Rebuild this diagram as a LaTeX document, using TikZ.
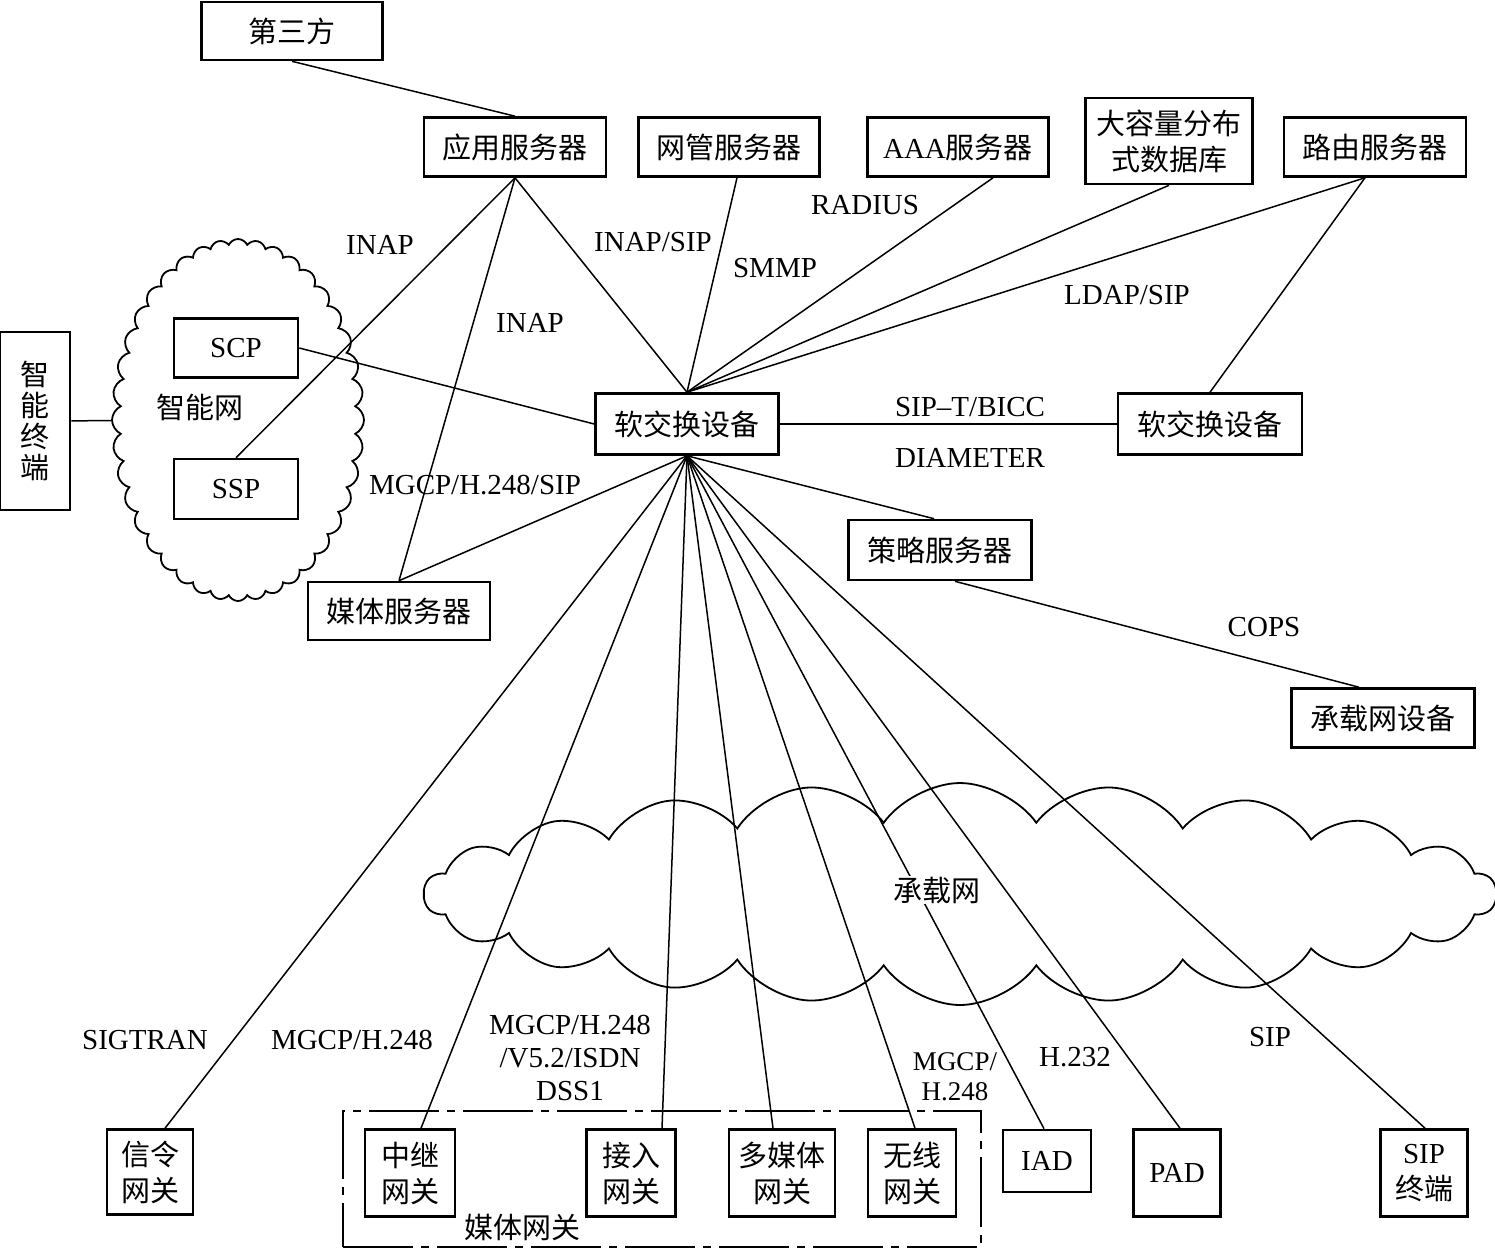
\documentclass[tikz,border=0pt]{standalone}
\usepackage{fontspec}
\setmainfont{Liberation Serif}
\newfontfamily\cjk{Noto Sans CJK SC}
\usetikzlibrary{shapes.symbols,calc}
\newcommand\cjkf{\cjk\fontsize{29}{36}\selectfont}
\newcommand\labf{\rmfamily\fontsize{29}{33}\selectfont}
\begin{document}
\begin{tikzpicture}[x=1pt,y=-1pt,
  box/.style={draw, line width=2.6pt, inner sep=0pt, align=center, font=\cjkf},
  conn/.style={line width=1.5pt},
  lab/.style={inner sep=1pt, align=center, font=\labf},
  clab/.style={inner sep=1pt, font=\cjkf},
  cloudy/.style={cloud, draw, line width=1.8pt, cloud ignores aspect, inner sep=0pt}]
\useasboundingbox (0,0) rectangle (1495,1251);
% clouds
\node[cloudy, cloud puffs=40, cloud puff arc=130, minimum width=252pt, minimum height=362pt] (ynet) at (238,420) {};
\node[cloudy, cloud puffs=22, cloud puff arc=110, minimum width=1072pt, minimum height=222pt] (bnet) at (960,894) {};
% media gateway frame
\node[draw, line width=2.4pt, dash pattern=on 70pt off 8pt on 8pt off 8pt, minimum width=638pt, minimum height=136pt, inner sep=0pt] (mg) at (662,1179) {};
% boxes
\node[box, minimum width=181pt, minimum height=58pt] (tp) at (292,31) {第三方};
\node[box, minimum width=182pt, minimum height=59pt] (app) at (515,147) {应用服务器};
\node[box, minimum width=181pt, minimum height=59pt] (nms) at (729,147) {网管服务器};
\node[box, minimum width=181pt, minimum height=59pt] (aaa) at (958,147) {\textrm{AAA}服务器};
\node[box, minimum width=167pt, minimum height=86pt] (db) at (1169,141) {大容量分布\\式数据库};
\node[box, minimum width=182pt, minimum height=59pt] (rt) at (1375,147) {路由服务器};
\node[box, minimum width=70pt, minimum height=178pt, font=\cjk\fontsize{29}{31}\selectfont] (zd) at (35,421) {智\\能\\终\\端};
\node[box, minimum width=124pt, minimum height=59pt] (scp) at (236,348) {\textrm{SCP}};
\node[box, minimum width=124pt, minimum height=60pt] (ssp) at (236,489) {\textrm{SSP}};
\node[box, minimum width=182pt, minimum height=58pt] (ms) at (399,611) {媒体服务器};
\node[box, minimum width=183pt, minimum height=61pt] (hub) at (687,424) {软交换设备};
\node[box, minimum width=184pt, minimum height=61pt] (rsw) at (1210,424) {软交换设备};
\node[box, minimum width=183pt, minimum height=60pt] (pol) at (940,550) {策略服务器};
\node[box, minimum width=183pt, minimum height=59pt] (bear) at (1383,718) {承载网设备};
\node[box, minimum width=86pt, minimum height=85pt] (xl) at (150,1172) {信令\\网关};
\node[box, minimum width=90pt, minimum height=87pt] (zj) at (410,1173) {中继\\网关};
\node[box, minimum width=89pt, minimum height=87pt] (jr) at (631,1173) {接入\\网关};
\node[box, minimum width=106pt, minimum height=87pt] (dmt) at (782,1173) {多媒体\\网关};
\node[box, minimum width=88pt, minimum height=87pt] (wx) at (912,1173) {无线\\网关};
\node[box, minimum width=88pt, minimum height=62pt] (iad) at (1047,1161) {\textrm{IAD}};
\node[box, minimum width=87pt, minimum height=87pt] (pad) at (1177,1173) {\textrm{PAD}};
\node[box, minimum width=87pt, minimum height=87pt] (sip) at (1424,1173) {\textrm{SIP}\\终端};
% connectors
\draw[conn] (tp.south) -- (app.north);
\draw[conn] (app.south) -- (hub.north);
\draw[conn] (app.south) -- (ssp.north);
\draw[conn] (app.south) -- (ms.north);
\draw[conn] (scp.east) -- (hub.west);
\draw[conn] (zd) -- (ynet);
\draw[conn] ([xshift=8pt]nms.south) -- (hub.north);
\draw[conn] ([xshift=35pt]aaa.south) -- (hub.north);
\draw[conn] (db.south) -- (hub.north);
\draw[conn] ([xshift=-10pt]rt.south) -- (hub.north);
\draw[conn] ([xshift=-10pt]rt.south) -- (rsw.north);
\draw[conn] (hub.east) -- (rsw.west);
\draw[conn] (hub.south) -- (ms.north);
\draw[conn] (hub.south) -- ([xshift=-6pt]pol.north);
\draw[conn] ([xshift=15pt]pol.south) -- ([xshift=-24pt]bear.north);
\draw[conn] (hub.south) -- ([xshift=15pt]xl.north);
\draw[conn] (hub.south) -- ([xshift=11pt]zj.north);
\draw[conn] (hub.south) -- ([xshift=31pt]jr.north);
\draw[conn] (hub.south) -- ([xshift=-9pt]dmt.north);
\draw[conn] (hub.south) -- ([xshift=3pt]wx.north);
\draw[conn] (hub.south) -- ([xshift=-3pt]iad.north);
\draw[conn] (hub.south) -- ([xshift=3pt]pad.north);
\draw[conn] (hub.south) -- ([xshift=1pt]sip.north);
% labels
\node[lab] (l1) at (380,245) {INAP};
\node[lab] (l2) at (653,242) {INAP/SIP};
\node[lab] (l3) at (775,268) {SMMP};
\node[lab] (l4) at (865,205) {RADIUS};
\node[lab] (l5) at (1127,295) {LDAP/SIP};
\node[lab] (l6) at (530,323) {INAP};
\node[lab] (l7) at (970,407) {SIP–T/BICC};
\node[lab] (l8) at (970,458) {DIAMETER};
\node[lab] (l9) at (475,485) {MGCP/H.248/SIP};
\node[lab] (l10) at (1264,627) {COPS};
\node[clab] (l11) at (200,407) {智能网};
\node[clab, fill=white] (l12) at (937,890) {承载网};
\node[lab] (l13) at (145,1040) {SIGTRAN};
\node[lab] (l14) at (352,1040) {MGCP/H.248};
\node[lab] (l15) at (570,1058) {MGCP/H.248\\/V5.2/ISDN\\DSS1};
\node[lab, font=\rmfamily\fontsize{27}{30}\selectfont] (l16) at (955,1077) {MGCP/\\H.248};
\node[lab] (l17) at (1075,1057) {H.232};
\node[lab] (l18) at (1270,1037) {SIP};
\node[clab] (l19) at (522,1227) {媒体网关};
\end{tikzpicture}
\end{document}
